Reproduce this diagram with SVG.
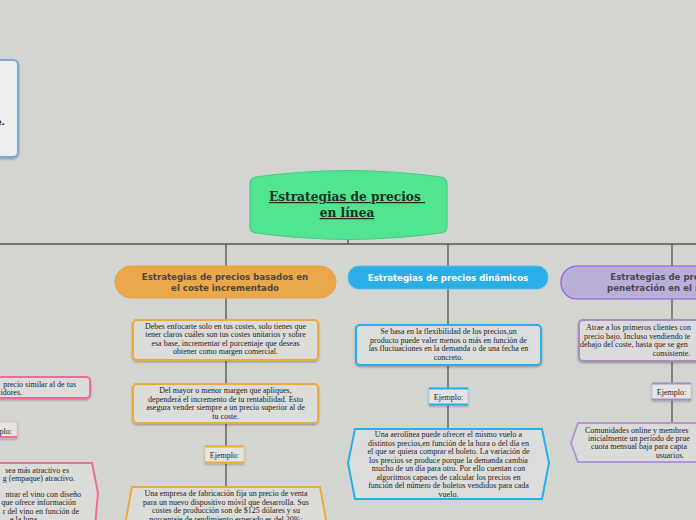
<svg xmlns="http://www.w3.org/2000/svg" width="696" height="520" viewBox="0 0 696 520">
<defs>
<filter id="sh" x="-10%" y="-10%" width="120%" height="140%">
<feDropShadow dx="0" dy="1.2" stdDeviation="0.8" flood-color="#000" flood-opacity="0.3"/>
</filter>
</defs>
<style>
.body{font-family:"Liberation Serif","Times New Roman",serif;font-size:8px;fill:#1e1e1e;text-anchor:middle}
.hdr{font-family:"DejaVu Sans",Verdana,sans-serif;font-size:8.6px;font-weight:bold;text-anchor:middle}
.ttl{font-family:"DejaVu Serif","Liberation Serif",serif;font-size:12.2px;font-weight:bold;fill:#1c2e24;text-anchor:middle;text-decoration:underline}
.line{fill:none;stroke:#555;stroke-width:1.3}
.ob{fill:#dcdcd8;stroke:#eea93a;stroke-width:2}
.bb{fill:#dcdddd;stroke:#2aaee8;stroke-width:2}
.pb{fill:#dcdbdc;stroke:#a68fc0;stroke-width:2}
.kb{fill:#dcdcd8;stroke:#ee6b9a;stroke-width:2}
</style>
<rect width="696" height="520" fill="#d3d5d1"/>

<g id="connectors">
<path class="line" d="M348,240 V244 M0,244 H696 M226,244 V266 M448,244 V266 M672,244 V266"/>
<path class="line" d="M226,298 V320 M226,360 V384 M226,423 V446 M226,463 V487"/>
<path class="line" d="M448,289 V325 M448,365 V388 M448,405 V428"/>
<path class="line" d="M672,299 V320 M672,361 V383 M672,400 V423"/>
</g>

<g id="topleft-note">
<rect x="-20" y="60" width="38" height="97" rx="5" fill="#eeeeec" stroke="#7aa8d2" stroke-width="2" filter="url(#sh)"/>
<text x="5" y="125" font-family="DejaVu Sans,sans-serif" font-size="9" font-weight="bold" fill="#222" text-anchor="end">e.</text>
</g>

<g id="root">
<path d="M250,184 Q250,178 256,177 Q348,164 441,177 Q447,178 447,184 L447,227 Q447,232 441,233 Q348,246 256,233 Q250,232 250,227 Z" fill="#52e591" stroke="#46c98a" stroke-width="1.2"/>
<text class="ttl" x="347" y="201" xml:space="preserve">Estrategias de precios </text>
<text class="ttl" x="347" y="217">en línea</text>
</g>

<!-- Orange column -->
<g id="orange-header">
<rect x="115" y="266" width="221" height="32" rx="16" fill="#eba84a" stroke="#e8a23e" stroke-width="1"/>
<text class="hdr" x="225" y="280" fill="#4a4640">Estrategias de precios basados en</text>
<text class="hdr" x="225" y="291" fill="#4a4640">el coste incrementado</text>
</g>
<g id="orange-box1">
<rect class="ob" x="133" y="320" width="185" height="40" rx="4" filter="url(#sh)"/>
<text class="body" x="225.5" y="328.5">Debes enfocarte solo en tus costes, solo tienes que</text>
<text class="body" x="225.5" y="337">tener claros cuáles son tus costes unitarios y sobre</text>
<text class="body" x="225.5" y="345.5">esa base, incrementar el porcentaje que deseas</text>
<text class="body" x="225.5" y="354">obtener como margen comercial.</text>
</g>
<g id="orange-box2">
<rect class="ob" x="133" y="384" width="185" height="39" rx="4" filter="url(#sh)"/>
<text class="body" x="225.5" y="393">Del mayor o menor margen que apliques,</text>
<text class="body" x="225.5" y="401.5">dependerá el incremento de tu rentabilidad. Esto</text>
<text class="body" x="225.5" y="410">asegura vender siempre a un precio superior al de</text>
<text class="body" x="225.5" y="418.5">tu coste.</text>
</g>
<g id="orange-ejemplo">
<rect x="205" y="446" width="39" height="17" fill="#e4e4e0" stroke="#f0c080" stroke-width="0.6" filter="url(#sh)"/>
<path d="M205,446.5 H244 M205,462.5 H244" stroke="#eea93a" stroke-width="2"/>
<text class="body" x="224.5" y="458">Ejemplo:</text>
</g>
<g id="orange-example">
<path d="M132,487 H320 L327,525 L320,560 H132 L125,525 Z" fill="#dcdcd8" stroke="#eea93a" stroke-width="2"/>
<text class="body" x="226" y="496">Una empresa de fabricación fija un precio de venta</text>
<text class="body" x="226" y="504.5">para un nuevo dispositivo móvil que desarrolla. Sus</text>
<text class="body" x="226" y="513">costes de producción son de $125 dólares y su</text>
<text class="body" x="226" y="521.5">porcentaje de rendimiento esperado es del 20%:</text>
</g>

<!-- Blue column -->
<g id="blue-header">
<rect x="348" y="266" width="200" height="23" rx="11" fill="#2aaee8" stroke="#5bbfe8" stroke-width="1"/>
<text class="hdr" x="448" y="281" fill="#ffffff">Estrategias de precios dinámicos</text>
</g>
<g id="blue-box">
<rect class="bb" x="356" y="325" width="185" height="40" rx="4" filter="url(#sh)"/>
<text class="body" x="448.5" y="334">Se basa en la flexibilidad de los precios,un</text>
<text class="body" x="448.5" y="342.5">producto puede valer menos o más en función de</text>
<text class="body" x="448.5" y="351">las fluctuaciones en la demanda o de una fecha en</text>
<text class="body" x="448.5" y="359.5">concreto.</text>
</g>
<g id="blue-ejemplo">
<rect x="429" y="388" width="39" height="17" fill="#e4e4e2" stroke="#8fd0f0" stroke-width="0.6" filter="url(#sh)"/>
<path d="M429,388.5 H468 M429,404.5 H468" stroke="#2aaee8" stroke-width="2"/>
<text class="body" x="448.5" y="400">Ejemplo:</text>
</g>
<g id="blue-example">
<path d="M355,429 H542 L549,463 L542,499 H355 L348,463 Z" fill="#dcdddd" stroke="#2aaee8" stroke-width="2"/>
<text class="body" x="448.5" y="437">Una aerolínea puede ofrecer el mismo vuelo a</text>
<text class="body" x="448.5" y="445.5">distintos precios,en función de la hora o del día en</text>
<text class="body" x="448.5" y="454">el que se quiera comprar el boleto. La variación de</text>
<text class="body" x="448.5" y="462.5">los precios se produce porque la demanda cambia</text>
<text class="body" x="448.5" y="471">mucho de un día para otro. Por ello cuentan con</text>
<text class="body" x="448.5" y="479.5">algoritmos capaces de calcular los precios en</text>
<text class="body" x="448.5" y="488">función del número de boletos vendidos para cada</text>
<text class="body" x="448.5" y="496.5">vuelo.</text>
</g>

<!-- Purple column -->
<g id="purple-header">
<rect x="561" y="266" width="222" height="33" rx="16" fill="#b9afd8" stroke="#9b52e2" stroke-width="1.2"/>
<text class="hdr" x="672" y="280" fill="#4a4650">Estrategias de precios de</text>
<text class="hdr" x="672" y="291" fill="#4a4650">penetración en el mercado</text>
</g>
<g id="purple-box">
<rect class="pb" x="579" y="320" width="185" height="41" rx="4" filter="url(#sh)"/>
<text class="body" x="586" y="330" style="text-anchor:start">Atrae a los primeros clientes con</text>
<text class="body" x="584" y="338.5" style="text-anchor:start">precio bajo. Incluso vendiendo te</text>
<text class="body" x="580" y="347" style="text-anchor:start">debajo del coste, hasta que se gen</text>
<text class="body" x="671.5" y="355.5">consistente.</text>
</g>
<g id="purple-ejemplo">
<rect x="652" y="383" width="39" height="17" fill="#e4e4e2" stroke="#c8b8dc" stroke-width="0.6" filter="url(#sh)"/>
<path d="M652,383.5 H691 M652,399.5 H691" stroke="#a68fc0" stroke-width="2"/>
<text class="body" x="671.5" y="395">Ejemplo:</text>
</g>
<g id="purple-example">
<path d="M578,423 H765 L772,443 L765,462 H578 L571,443 Z" fill="#dcdbdc" stroke="#b596d2" stroke-width="2"/>
<text class="body" x="585" y="433" style="text-anchor:start">Comunidades online y membres</text>
<text class="body" x="588" y="441" style="text-anchor:start">inicialmente un período de prue</text>
<text class="body" x="591" y="449" style="text-anchor:start">cuota mensual baja para capta</text>
<text class="body" x="670" y="457.5">usuarios.</text>
</g>

<!-- Pink column (partially visible) -->
<g id="pink-box">
<rect class="kb" x="-92" y="377" width="182" height="21" rx="4" filter="url(#sh)"/>
<text class="body" x="76" y="386.5" style="text-anchor:end">precio similar al de tus</text>
<text class="body" x="22" y="395" style="text-anchor:end">idores.</text>
</g>
<g id="pink-ejemplo">
<rect x="-22" y="422" width="39" height="16" fill="#e4e4e2" stroke="#f0a8c0" stroke-width="0.6" filter="url(#sh)"/>
<path d="M-22,437 H17" stroke="#ee6b9a" stroke-width="2"/>
<text class="body" x="12" y="433.5" style="text-anchor:end">plo:</text>
</g>
<g id="pink-example">
<path d="M-100,463 H92 L98,493 L92,560 H-100 Z" fill="#dcdcd8" stroke="#ee6b9a" stroke-width="2"/>
<text class="body" x="69" y="473" style="text-anchor:end">sea más atractivo es</text>
<text class="body" x="75" y="481" style="text-anchor:end">g (empaque) atractivo.</text>
<text class="body" x="81" y="497" style="text-anchor:end">ntrar el vino con diseño</text>
<text class="body" x="76" y="505" style="text-anchor:end">que ofrece información</text>
<text class="body" x="79" y="513.5" style="text-anchor:end">r del vino en función de</text>
<text class="body" x="37" y="521.5" style="text-anchor:end">e la luna</text>
</g>
</svg>
